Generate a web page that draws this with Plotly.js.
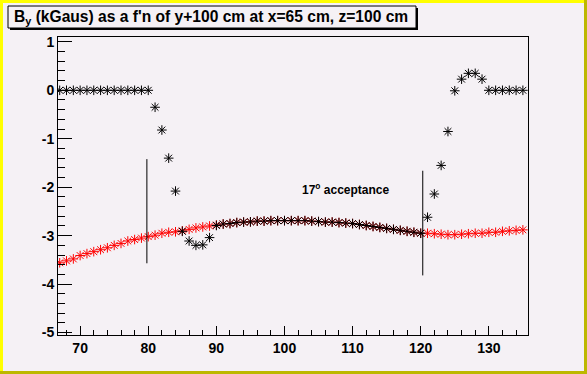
<!DOCTYPE html>
<html>
<head>
<meta charset="utf-8">
<script src="https://cdn.plot.ly/plotly-3.0.1.min.js"></script>
<style>
  html, body { margin: 0; padding: 0; background: #f5f1f5; }
  #wrap { position: relative; width: 587px; height: 374px; overflow: hidden; }
  #chart { position: absolute; left: 0; top: 0; width: 587px; height: 374px; }
  .bd { position: absolute; pointer-events: none; }
</style>
</head>
<body>
<div id="wrap">
  <div id="chart"></div>
  <div class="bd" style="left:0;top:0;width:587px;height:3px;background:#ffff00;"></div>
  <div class="bd" style="left:0;top:0;width:3px;height:374px;background:#ffff00;"></div>
  <div class="bd" style="left:584px;top:0;width:3px;height:374px;background:#bdb800;"></div>
  <div class="bd" style="left:0;top:371px;width:587px;height:3px;background:#bdb800;"></div>
</div>
<script>
// ---- data ----
const yPos = [67,68,69,70,71,72,73,74,75,76,77,78,79,80,81,82,83,84,85,86,87,88,89,90,
  91,92,93,94,95,96,97,98,99,100,101,102,103,104,105,106,107,108,109,110,
  111,112,113,114,115,116,117,118,119,120,121,122,123,124,125,126,127,128,129,130,
  131,132,133,134,135];
const byRed = [-3.56,-3.52,-3.48,-3.41,-3.37,-3.33,-3.29,-3.25,-3.20,-3.16,-3.11,-3.08,-3.05,-3.02,
  -2.99,-2.95,-2.93,-2.92,-2.90,-2.87,-2.84,-2.82,-2.80,-2.78,
  -2.76,-2.75,-2.73,-2.72,-2.715,-2.70,-2.70,-2.69,-2.69,-2.69,-2.69,-2.69,-2.69,-2.70,
  -2.71,-2.72,-2.72,-2.73,-2.74,-2.75,
  -2.77,-2.79,-2.81,-2.83,-2.85,-2.87,-2.89,-2.91,-2.93,-2.95,
  -2.95,-2.96,-2.97,-2.98,-2.98,-2.97,-2.96,-2.95,-2.95,-2.93,
  -2.93,-2.91,-2.90,-2.89,-2.88];
const byBlack = [0,0,0,0,0,0,0,0,0,0,0,0,0,0,
  -0.35,-0.82,-1.40,-2.08,-2.91,-3.11,-3.20,-3.19,-3.04,-2.79,
  -2.76,-2.75,-2.73,-2.72,-2.715,-2.70,-2.70,-2.69,-2.69,-2.69,-2.69,-2.69,-2.69,-2.70,
  -2.71,-2.72,-2.72,-2.73,-2.74,-2.75,
  -2.77,-2.79,-2.81,-2.83,-2.85,-2.87,-2.89,-2.91,-2.93,-2.95,
  -2.62,-2.14,-1.55,-0.85,-0.01,0.23,0.35,0.35,0.23,0,
  0,0,0,0,0];
const accLeftX = [79.8, 79.8];
const accLeftY = [-1.42, -3.57];
const accRightX = [120.3, 120.3];
const accRightY = [-1.66, -3.82];
const yTickVals = [1, 0, -1, -2, -3, -4, -5];
const yTickText = ['1', '0', '-1', '-2', '-3', '-4', '-5'];
const titleText = "B<sub>y</sub> (kGaus) as a f'n of y+100 cm at x=65 cm, z=100 cm";
const accText = "17<sup>o</sup> acceptance";

// ---- layout helpers (pixel -> paper) ----
const W = 587, H = 374, L = 58, R = 59, T = 37, B = 39;
const PW = W - L - R, PH = H - T - B;
const px = v => (v - L) / PW;
const py = v => (H - B - v) / PH;

const BG = '#f5f1f5';
const lblFont = { family: 'Liberation Sans, Arial, sans-serif', size: 14, color: '#000', weight: 'bold' };

const traces = [
  { x: yPos, y: byRed, mode: 'markers', type: 'scatter', hoverinfo: 'skip',
    marker: { symbol: 'asterisk-open', size: 8, color: '#ff0000', line: { color: '#ff0000', width: 1 } } },
  { x: yPos, y: byBlack, mode: 'markers', type: 'scatter', hoverinfo: 'skip',
    marker: { symbol: 'asterisk-open', size: 8, color: '#000', line: { color: '#000', width: 1 } } },
  { x: accLeftX, y: accLeftY, mode: 'lines', type: 'scatter', line: { color: '#000', width: 1 }, hoverinfo: 'skip' },
  { x: accRightX, y: accRightY, mode: 'lines', type: 'scatter', line: { color: '#000', width: 1 }, hoverinfo: 'skip' }
];

const layout = {
  width: W, height: H,
  margin: { l: L, r: R, t: T, b: B, pad: 0 },
  paper_bgcolor: BG, plot_bgcolor: BG,
  showlegend: false,
  xaxis: {
    range: [66.75, 135.75], showgrid: false, zeroline: false,
    showline: true, linecolor: '#000', linewidth: 1, mirror: true,
    ticks: 'inside', ticklen: 9, tickwidth: 1, tickcolor: '#000',
    tick0: 0, dtick: 10, tickfont: lblFont,
    minor: { ticks: 'inside', ticklen: 5, tickwidth: 1, tickcolor: '#000', tickmode: 'linear', tick0: 0, dtick: 2, showgrid: false }
  },
  yaxis: {
    range: [-5.05, 1.10], showgrid: false, zeroline: false,
    showline: true, linecolor: '#000', linewidth: 1, mirror: true,
    ticks: 'inside', ticklen: 14, tickwidth: 1, tickcolor: '#000',
    tickmode: 'array', tickvals: yTickVals, ticktext: yTickText, tickfont: lblFont,
    minor: { ticks: 'inside', ticklen: 7, tickwidth: 1, tickcolor: '#000', tickmode: 'linear', tick0: 0, dtick: 0.2, showgrid: false }
  },
  shapes: [
    { type: 'rect', xref: 'paper', yref: 'paper', x0: px(10), x1: px(418), y0: py(8), y1: py(30),
      fillcolor: '#000', line: { width: 0 }, layer: 'above' },
    { type: 'rect', xref: 'paper', yref: 'paper', x0: px(8), x1: px(416), y0: py(6), y1: py(28),
      fillcolor: BG, line: { color: '#000', width: 1 }, layer: 'above' }
  ],
  annotations: [
    { xref: 'paper', yref: 'paper', x: px(12), y: py(17), xanchor: 'left', yanchor: 'middle',
      text: titleText, showarrow: false,
      font: { family: 'Liberation Sans, Arial, sans-serif', size: 15.6, color: '#000', weight: 'bold' } },
    { xref: 'paper', yref: 'paper', x: px(346), y: py(189), xanchor: 'center', yanchor: 'middle',
      text: accText, showarrow: false,
      font: { family: 'Liberation Sans, Arial, sans-serif', size: 12, color: '#000', weight: 'bold' } }
  ]
};

Plotly.newPlot('chart', traces, layout, { staticPlot: true, displayModeBar: false });
</script>
</body>
</html>
